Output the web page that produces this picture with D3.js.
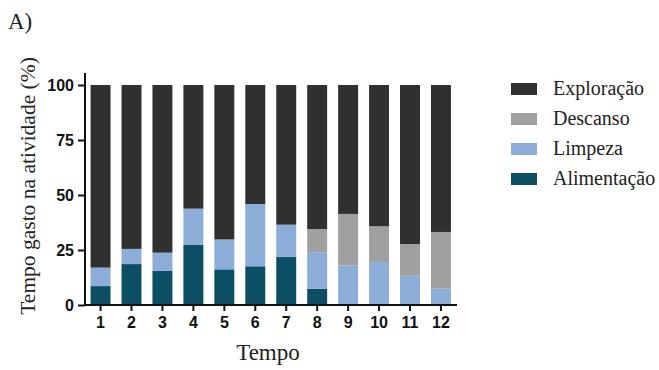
<!DOCTYPE html>
<html>
<head>
<meta charset="utf-8">
<script src="https://cdn.jsdelivr.net/npm/d3@7"></script>
<style>
  html, body { margin: 0; padding: 0; background: #fff; }
  svg { display: block; }
</style>
</head>
<body>
<svg id="chart" width="659" height="370"></svg>
<script>
// Time points on the x axis
const tempos = ["1", "2", "3", "4", "5", "6", "7", "8", "9", "10", "11", "12"];

// Share of time (%) spent in each activity, per time point (stacked bottom to top)
const alimentacao = [8.6, 18.6, 15.5, 27.3, 16.2, 17.6, 21.8, 7.4, 0, 0, 0, 0];
const limpeza     = [8.4, 6.9, 8.3, 16.5, 13.6, 28.3, 14.7, 16.6, 17.9, 19.5, 13.3, 7.6];
const descanso    = [0, 0, 0, 0, 0, 0, 0, 10.5, 23.5, 16.3, 14.4, 25.6];
const exploracao  = tempos.map((_, i) => 100 - alimentacao[i] - limpeza[i] - descanso[i]);

const yTicks = [0, 25, 50, 75, 100];

const activities = ["Alimentação", "Limpeza", "Descanso", "Exploração"];
const colors = {
  "Alimentação": "#0c4e63",
  "Limpeza": "#8cadd8",
  "Descanso": "#a0a0a0",
  "Exploração": "#303030"
};

const rows = tempos.map((t, i) => ({
  tempo: t,
  "Alimentação": alimentacao[i],
  "Limpeza": limpeza[i],
  "Descanso": descanso[i],
  "Exploração": exploracao[i]
}));

const svg = d3.select("#chart");

const x = d3.scaleBand()
  .domain(tempos)
  .range([85, 456.5])
  .paddingInner(0.355)
  .paddingOuter(0.18);

const y = d3.scaleLinear()
  .domain([0, 100])
  .range([305, 85]);

const series = d3.stack().keys(activities)(rows);

// Stacked bars
svg.append("g")
  .selectAll("g")
  .data(series)
  .join("g")
    .attr("fill", d => colors[d.key])
  .selectAll("rect")
  .data(d => d)
  .join("rect")
    .attr("x", d => x(d.data.tempo))
    .attr("width", x.bandwidth())
    .attr("y", d => y(d[1]))
    .attr("height", d => y(d[0]) - y(d[1]));

// Y axis
const yAxis = svg.append("g")
  .attr("transform", "translate(85,0)")
  .call(d3.axisLeft(y).tickValues(yTicks).tickSize(7).tickPadding(4).tickSizeOuter(0));
yAxis.select(".domain").attr("d", `M0,${y(0) + 1}V73`);

// X axis
const xAxis = svg.append("g")
  .attr("transform", "translate(0,305)")
  .call(d3.axisBottom(x).tickSize(6).tickPadding(6).tickSizeOuter(0));
xAxis.select(".domain").attr("d", "M84,0H457");

svg.selectAll(".domain, .tick line")
  .attr("stroke", "#111")
  .attr("stroke-width", 2);
svg.selectAll(".tick text")
  .attr("fill", "#111")
  .style("font-family", "'Liberation Sans', Arial, sans-serif")
  .style("font-weight", "bold")
  .style("font-size", "16px");

// Axis titles
const serif = "'Liberation Serif', 'Times New Roman', serif";

svg.append("text")
  .attr("x", 268)
  .attr("y", 360)
  .attr("text-anchor", "middle")
  .style("font-family", serif)
  .style("font-size", "23px")
  .attr("fill", "#222")
  .text("Tempo");

svg.append("text")
  .attr("transform", "translate(35,186) rotate(-90)")
  .attr("text-anchor", "middle")
  .style("font-family", serif)
  .style("font-size", "21.5px")
  .attr("fill", "#222")
  .text("Tempo gasto na atividade (%)");

// Panel label
svg.append("text")
  .attr("x", 8)
  .attr("y", 29)
  .style("font-family", serif)
  .style("font-size", "23px")
  .attr("fill", "#222")
  .text("A)");

// Legend (top to bottom: reverse of stack order)
const legend = svg.append("g")
  .selectAll("g")
  .data(activities.slice().reverse())
  .join("g")
    .attr("transform", (d, i) => `translate(511,${89 + i * 30})`);

legend.append("rect")
  .attr("x", 0)
  .attr("y", -6)
  .attr("width", 26)
  .attr("height", 12)
  .attr("fill", d => colors[d]);

legend.append("text")
  .attr("x", 42)
  .attr("y", 6)
  .style("font-family", serif)
  .style("font-size", "20px")
  .attr("fill", "#222")
  .text(d => d);
</script>
</body>
</html>
